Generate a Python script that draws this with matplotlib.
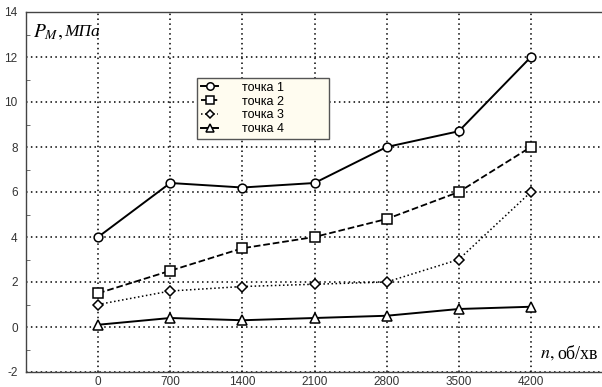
import numpy as np
import matplotlib.pyplot as plt
from matplotlib.ticker import MultipleLocator

n = [0, 700, 1400, 2100, 2800, 3500, 4200]
p1 = [4.0, 6.4, 6.2, 6.4, 8.0, 8.7, 12.0]
p2 = [1.5, 2.5, 3.5, 4.0, 4.8, 6.0, 8.0]
p3 = [1.0, 1.6, 1.8, 1.9, 2.0, 3.0, 6.0]
p4 = [0.1, 0.4, 0.3, 0.4, 0.5, 0.8, 0.9]
labels = ['точка 1', 'точка 2', 'точка 3', 'точка 4']

plt.rcParams['font.family'] = ['Liberation Sans', 'DejaVu Sans']
plt.rcParams['axes.unicode_minus'] = False
plt.rcParams['mathtext.fontset'] = 'stix'

fig = plt.figure(figsize=(6.02, 3.87), dpi=100)
ax = fig.add_axes([26 / 602, 15 / 387, 577 / 602, 360 / 387])

mk = dict(markerfacecolor='white', markeredgecolor='black', markeredgewidth=1.1, color='black')
ax.plot(n, p1, '-', marker='o', markersize=6.3, linewidth=1.4, label=labels[0], **mk)
ax.plot(n, p2, '--', marker='s', markersize=6.5, linewidth=1.3, label=labels[1], **mk)
ax.plot(n, p3, ':', marker='D', markersize=5, linewidth=1.1, label=labels[2], **mk)
ax.plot(n, p4, '-', marker='^', markersize=7.5, linewidth=1.4, label=labels[3], **mk)

ax.set_xlim(-700, 4900)
ax.set_ylim(-2, 14)
ax.set_xticks(n)
ax.set_yticks(np.arange(-2, 15, 2))
ax.yaxis.set_minor_locator(MultipleLocator(1))
ax.tick_params(axis='both', which='major', length=0, labelsize=8.5, colors='#333333')
ax.tick_params(axis='y', which='major', pad=6)
ax.tick_params(axis='x', which='major', pad=3)
ax.tick_params(axis='y', which='minor', direction='in', length=3, color='#555555')
ax.grid(True, which='major', linestyle=(0, (1, 2.2)), color='black', linewidth=1.1)

for s in ['left', 'bottom', 'top']:
    ax.spines[s].set_color('#444444')
    ax.spines[s].set_linewidth(1.0)
ax.spines['right'].set_visible(False)

# axis captions inside the plot
ax.text(0.012, 0.972, r'$P_{M},$', transform=ax.transAxes, fontsize=14,
        va='top', ha='left')
ax.text(0.066, 0.968, 'МПа', transform=ax.transAxes, fontsize=12.5,
        family='Liberation Serif', style='italic', va='top', ha='left')
ax.text(0.890, 0.05, r'$n,$', transform=ax.transAxes, fontsize=13,
        va='center', ha='left')
ax.text(0.921, 0.048, 'об/хв', transform=ax.transAxes, fontsize=13,
        family='Liberation Serif', va='center', ha='left')

leg = ax.legend(loc='upper left', bbox_to_anchor=(0.2964, 0.5, 0.2288, 0.3167),
                mode='expand', fontsize=9,
                frameon=True, fancybox=False, edgecolor='#555555',
                facecolor='#fffcf0', framealpha=1, handlelength=1.4,
                borderpad=0.3, labelspacing=0.15, handletextpad=1.9,
                markerscale=0.85, borderaxespad=0)
leg.get_frame().set_linewidth(1.0)

fig.savefig('out.png', dpi=100)
